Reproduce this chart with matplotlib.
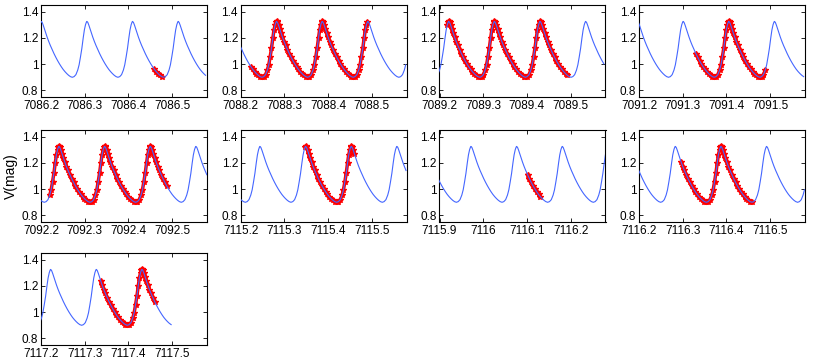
import matplotlib

matplotlib.use("Agg")
import matplotlib.pyplot as plt
import numpy as np
from matplotlib.ticker import MultipleLocator, FuncFormatter

plt.rcParams["font.family"] = ["Liberation Sans", "DejaVu Sans"]

# one pulsation cycle (phase 0 = maximum)
template_phase = [0.00, 0.02, 0.045, 0.07, 0.10, 0.13, 0.165, 0.20, 0.24, 0.28,
                  0.32, 0.36, 0.40, 0.44, 0.48, 0.52, 0.56, 0.60, 0.64, 0.68,
                  0.72, 0.76, 0.80, 0.83, 0.86, 0.89, 0.92, 0.945, 0.97, 0.99]
template_mag = [1.325, 1.318, 1.295, 1.268, 1.235, 1.205, 1.172, 1.142, 1.11, 1.08,
                1.052, 1.026, 1.002, 0.98, 0.96, 0.943, 0.928, 0.915, 0.905, 0.90,
                0.905, 0.92, 0.955, 0.995, 1.055, 1.12, 1.20, 1.26, 1.30, 1.32]
period = 0.1045

# per night: left edge of window, one epoch of maximum, end of model curve
win_start = [7086.2, 7088.2, 7089.2, 7091.2, 7092.2, 7115.2, 7115.9, 7116.2, 7117.2]
max_epoch = [7086.305, 7088.282, 7089.221, 7091.301, 7092.241, 7115.244, 7115.972,
             7116.283, 7117.222]
curve_end = [7086.58, 7088.58, 7089.58, 7091.58, 7092.58, 7115.58, 7116.28, 7116.58, 7117.4985]

# observed stretch of each night
obs_start = [7086.4565, 7088.2214, 7089.2153, 7091.3298, 7092.216, 7115.3458, 7116.0977,
             7116.2947, 7117.3359]
obs_end = [7086.477, 7088.4908, 7089.4939, 7091.4893, 7092.4908, 7115.4634, 7116.1344,
           7116.461, 7117.4603]

WIN = 0.38
BLUE = "#4466ff"

fig = plt.figure(figsize=(8.14, 3.62), dpi=100)
lefts = [41, 240.7, 439.5, 639]
tops = [5, 130, 253]
W, H = 166, 92

ph = np.array(template_phase)
mg = np.array(template_mag)
fmt = FuncFormatter(lambda v, p: f"{round(v, 1):g}")

for i in range(9):
    r, c = divmod(i, 4)
    ax = fig.add_axes([lefts[c] / 814, 1 - (tops[r] + H) / 362, W / 814, H / 362])
    t0 = win_start[i]
    t1 = t0 + WIN
    k0 = int(np.floor((t0 - max_epoch[i]) / period)) - 1
    k1 = int(np.ceil((t1 - max_epoch[i]) / period)) + 1
    tt, mm = [], []
    for k in range(k0, k1 + 1):
        tt.extend(max_epoch[i] + (k + ph) * period)
        mm.extend(mg)
    tt = np.array(tt)
    mm = np.array(mm)
    keep = tt <= curve_end[i]
    obs = (tt >= obs_start[i]) & (tt <= obs_end[i])

    # observed points (red) under the model curve (blue)
    ax.plot(tt[obs], mm[obs], color="red", lw=2.5, zorder=2)
    ax.plot(tt[obs], mm[obs], ls="none", marker="*", ms=4, color="red", zorder=2)
    ax.plot(tt[keep], mm[keep], color=BLUE, lw=0.8, zorder=3)

    ax.set_xlim(t0, t1)
    ax.set_ylim(0.75, 1.45)
    ax.xaxis.set_major_locator(MultipleLocator(0.1))
    ax.xaxis.set_major_formatter(fmt)
    ax.set_yticks([0.8, 1.0, 1.2, 1.4])
    ax.yaxis.set_major_formatter(fmt)
    ax.tick_params(direction="in", length=3, width=0.6, labelsize=8.5, pad=2,
                   top=True, right=True, colors="black")
    for s in ax.spines.values():
        s.set_linewidth(0.8)
    if i == 4:
        ax.set_ylabel("V(mag)", fontsize=10, labelpad=3)

fig.savefig("out.png", dpi=100)
